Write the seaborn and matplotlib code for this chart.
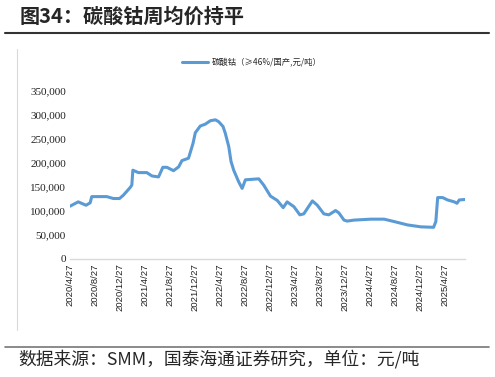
import matplotlib
matplotlib.use("Agg")
import matplotlib.pyplot as plt
from matplotlib.font_manager import FontProperties, findfont
import pandas as pd
import seaborn as sns

# 碳酸钴周均价（≥46%/国产，元/吨），从图上读取的拐点
dates = [
    "2020-04-27", "2020-06-06", "2020-07-14", "2020-08-03", "2020-08-11",
    "2020-10-23", "2020-11-24", "2020-12-24", "2021-01-12", "2021-02-14",
    "2021-02-22", "2021-02-27", "2021-03-26", "2021-05-06", "2021-05-31",
    "2021-07-02", "2021-07-23", "2021-08-12", "2021-09-13", "2021-10-08",
    "2021-10-24", "2021-11-25", "2021-12-17", "2021-12-28", "2022-01-21",
    "2022-02-15", "2022-03-11", "2022-04-05", "2022-04-21", "2022-05-12",
    "2022-05-23", "2022-06-09", "2022-06-20", "2022-07-03", "2022-07-27",
    "2022-08-13", "2022-08-29", "2022-11-02", "2022-11-26", "2022-12-29",
    "2023-01-31", "2023-03-01", "2023-03-20", "2023-04-22", "2023-05-21",
    "2023-06-09", "2023-07-21", "2023-08-14", "2023-09-15", "2023-10-09",
    "2023-11-11", "2023-11-27", "2023-12-22", "2024-01-07", "2024-02-08",
    "2024-04-30", "2024-07-04", "2024-08-22", "2024-10-26", "2024-12-30",
    "2025-03-02", "2025-03-13", "2025-03-22", "2025-04-15", "2025-05-09",
    "2025-06-11", "2025-06-24", "2025-07-05", "2025-08-02",
]
prices = [
    110000, 119000, 112000, 117000, 130000,
    130000, 126000, 126000, 133000, 149000,
    154000, 185000, 180000, 180000, 173000,
    171000, 191000, 191000, 184000, 192000,
    205000, 210000, 241000, 263000, 277000,
    281000, 288000, 290000, 286000, 276000,
    262000, 234000, 203000, 185000, 161000,
    147000, 165000, 167000, 154000, 131000,
    122000, 107000, 119000, 109000, 92000,
    94000, 121000, 112000, 94000, 92000,
    101000, 96000, 81000, 79000, 81000,
    83000, 83000, 78000, 71000, 67000,
    66000, 78000, 128000, 128000, 123000,
    119000, 116000, 123000, 124000,
]
tick_dates = [
    "2020-04-27", "2020-08-27", "2020-12-27", "2021-04-27", "2021-08-27",
    "2021-12-27", "2022-04-27", "2022-08-27", "2022-12-27", "2023-04-27",
    "2023-08-27", "2023-12-27", "2024-04-27", "2024-08-27", "2024-12-27",
    "2025-04-27",
]
tick_labels = [
    "2020/4/27", "2020/8/27", "2020/12/27", "2021/4/27", "2021/8/27",
    "2021/12/27", "2022/4/27", "2022/8/27", "2022/12/27", "2023/4/27",
    "2023/8/27", "2023/12/27", "2024/4/27", "2024/8/27", "2024/12/27",
    "2025/4/27",
]
y_ticks = [0, 50000, 100000, 150000, 200000, 250000, 300000, 350000]
series_name = "碳酸钴（≥46%/国产,元/吨）"

sns.set_theme(style="white")
plt.rcParams["font.family"] = ["Noto Sans CJK SC", "DejaVu Sans"]
plt.rcParams["axes.unicode_minus"] = False

df = pd.DataFrame({"date": pd.to_datetime(dates), "price": prices})

W, H = 495, 377
fig = plt.figure(figsize=(W / 100, H / 100), dpi=100)
ax = fig.add_axes([70 / W, (H - 259) / H, 395 / W, 168 / H])

sns.lineplot(data=df, x="date", y="price", ax=ax, color="#5B9BD5",
             linewidth=2.2, label=series_name)

ax.set_ylim(0, 350000)
ax.set_xlim(df["date"].iloc[0], df["date"].iloc[-1])
ax.set_yticks(y_ticks)
ax.set_yticklabels([f"{v:,}" for v in y_ticks])
ax.set_xticks(pd.to_datetime(tick_dates))
ax.set_xticklabels(tick_labels, rotation=90)
ax.tick_params(axis="both", labelcolor="#222222", length=0, pad=3)
ax.set_xlabel("")
ax.set_ylabel("")
for side in ["top", "right", "left"]:
    ax.spines[side].set_visible(False)
ax.spines["bottom"].set_color("#d9d9d9")
ax.spines["bottom"].set_linewidth(1)
ax.grid(False)

ax.legend(loc="center", bbox_to_anchor=(0.46, 1.17), frameon=False,
          prop={"family": ["Noto Sans CJK SC", "DejaVu Sans"], "size": 6},
          handlelength=3.2, handletextpad=0.4)

# 标题、分隔线、来源
fig.text(20 / W, 1 - 16 / H, "图34：碳酸钴周均价持平", fontsize=14.5,
         fontweight="bold", va="center", ha="left")
fig.add_artist(plt.Line2D([5 / W, 489 / W], [1 - 33 / H, 1 - 33 / H],
                          color="#333333", linewidth=1.5))
fig.add_artist(plt.Line2D([5 / W, 489 / W], [1 - 347 / H, 1 - 347 / H],
                          color="#777777", linewidth=1.2))
fig.add_artist(plt.Line2D([17 / W, 17 / W], [1 - 49 / H, 1 - 330 / H],
                          color="#d9d9d9", linewidth=0.8))
fig.text(18 / W, 1 - 359 / H, "数据来源：SMM，国泰海通证券研究，单位：元/吨",
         fontsize=12.8, va="center", ha="left")

# 刻度字体：纵轴用衬线体，横轴用无衬线体
fig.canvas.draw()
serif_fp = FontProperties(fname=findfont(FontProperties(family="Liberation Serif")), size=8)
sans_fp = FontProperties(fname=findfont(FontProperties(family="Liberation Sans")), size=6.8)
for lbl in ax.get_yticklabels():
    lbl.set_fontproperties(serif_fp)
for lbl in ax.get_xticklabels():
    lbl.set_fontproperties(sans_fp)

fig.savefig("out.png", dpi=100)
